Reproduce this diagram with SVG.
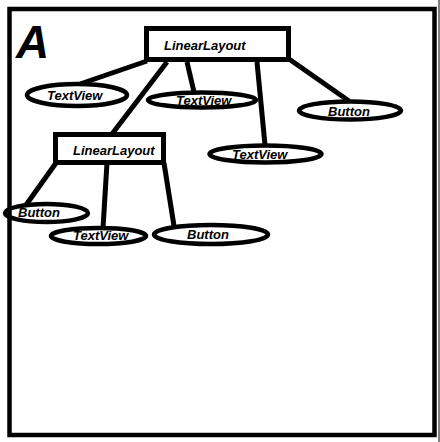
<svg xmlns="http://www.w3.org/2000/svg" width="440" height="442" viewBox="0 0 440 442">
<style>
.frame{fill:none;stroke:#000;stroke-width:4.5}
.box{fill:#fff;stroke:#000;stroke-width:5}
.ell{fill:none;stroke:#000;stroke-width:4.5}
.lbl{font-family:"Liberation Sans",Arial,sans-serif;font-weight:bold;font-style:italic;font-size:13px;fill:#000}
.big{font-family:"Liberation Sans",Arial,sans-serif;font-weight:bold;font-style:italic;font-size:46px;fill:#000}
#connectors line{stroke:#000;stroke-width:5}
</style>
<rect width="440" height="442" fill="#fff"/>
<rect class="frame" x="9.5" y="9" width="425" height="426"/>
<line x1="439" y1="0" x2="439" y2="442" stroke="#000" stroke-width="1"/>
<text class="big" x="16" y="58">A</text>
<g id="connectors">
<line x1="147" y1="61" x2="80" y2="84"/>
<line x1="167" y1="62" x2="112" y2="134"/>
<line x1="187" y1="62" x2="194" y2="92"/>
<line x1="257" y1="62" x2="265" y2="145"/>
<line x1="289" y1="59" x2="349" y2="101"/>
<line x1="56" y1="163" x2="26" y2="205"/>
<line x1="107" y1="163" x2="103" y2="228"/>
<line x1="164" y1="163" x2="174" y2="226"/>
</g>
<g id="root-linearlayout">
<rect class="box" x="146.5" y="28.5" width="142" height="31"/>
<text class="lbl" x="164" y="49.5">LinearLayout</text>
</g>
<g id="textview-1">
<ellipse class="ell" cx="77" cy="95" rx="50" ry="11"/>
<text class="lbl" x="47" y="99.5">TextView</text>
</g>
<g id="textview-2">
<ellipse class="ell" cx="202" cy="100" rx="54" ry="7.5"/>
<text class="lbl" x="176" y="105">TextView</text>
</g>
<g id="button-1">
<ellipse class="ell" cx="350" cy="110.5" rx="51" ry="9"/>
<text class="lbl" x="328" y="116">Button</text>
</g>
<g id="textview-3">
<ellipse class="ell" cx="265.5" cy="154" rx="56" ry="8.5"/>
<text class="lbl" x="232" y="159">TextView</text>
</g>
<g id="child-linearlayout">
<rect class="box" x="55.5" y="134.5" width="108" height="28"/>
<text class="lbl" x="73" y="155">LinearLayout</text>
</g>
<g id="button-2">
<ellipse class="ell" cx="46.5" cy="213" rx="41.5" ry="9"/>
<text class="lbl" x="18" y="217">Button</text>
</g>
<g id="textview-4">
<ellipse class="ell" cx="98.5" cy="236" rx="47.5" ry="8"/>
<text class="lbl" x="73" y="240">TextView</text>
</g>
<g id="button-3">
<ellipse class="ell" cx="211" cy="234.5" rx="57" ry="9.5"/>
<text class="lbl" x="187" y="239">Button</text>
</g>
</svg>
